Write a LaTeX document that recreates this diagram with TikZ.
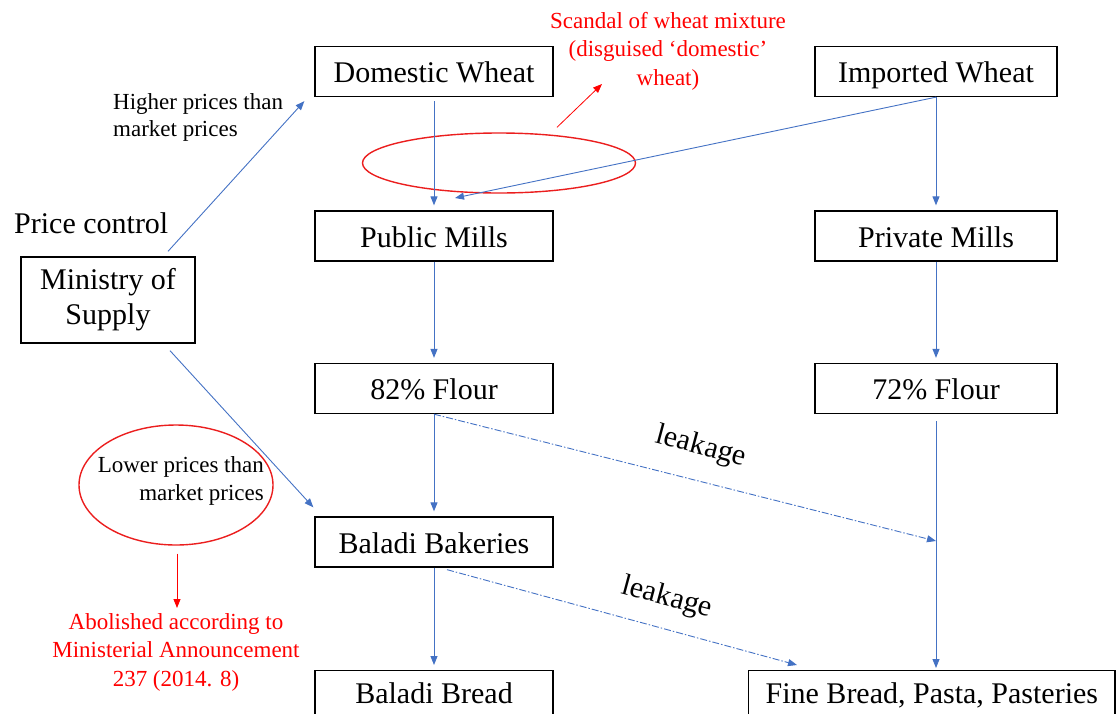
\documentclass[tikz,border=0pt]{standalone}
\usepackage{fontspec}
\setmainfont{Liberation Serif}
\usetikzlibrary{arrows.meta,shapes.geometric,calc}
\definecolor{ablue}{RGB}{68,114,196}
\definecolor{ared}{RGB}{235,30,30}
\begin{document}
\begin{tikzpicture}[x=1pt,y=-1pt,
  box/.style={draw=black, line width=1.3pt, minimum width=238pt, minimum height=50pt,
    inner sep=0pt, font=\fontsize{30}{35}\selectfont, text height=22pt, text depth=0pt},
  mbox/.style={draw=black, line width=1.3pt, minimum width=174pt, minimum height=86pt,
    inner sep=0pt, font=\fontsize{30}{35}\selectfont, align=center},
  cutbox/.style={draw=black, line width=1.3pt, inner xsep=17pt, inner ysep=11pt,
    font=\fontsize{30}{35}\selectfont, text height=22pt, text depth=50pt, anchor=north},
  flow/.style={draw=ablue, line width=0.9pt, -{Triangle[length=9pt,width=7pt]}},
  leak/.style={flow, dash pattern=on 7pt off 2pt on 1.5pt off 2pt},
  redarrow/.style={draw=red, line width=0.8pt, -{Triangle[length=9pt,width=7pt]}},
  note/.style={font=\fontsize{23}{27.5}\selectfont, inner sep=0pt},
  rednote/.style={note, text=red, align=center, font=\fontsize{23}{28.5}\selectfont},
  redell/.style={ellipse, draw=ared, line width=1.4pt, inner sep=0pt},
  leaklabel/.style={font=\fontsize{30}{35}\selectfont, inner sep=0pt},
]
\useasboundingbox (0,0) rectangle (1117,713);
\clip (0,0) rectangle (1117,713);

% boxes
\node[box] (dw) at (434,71.5) {Domestic Wheat};
\node[box, minimum width=242pt] (iw) at (936,71.5) {Imported Wheat};
\node[box] (pm) at (434,236) {Public Mills};
\node[box, minimum width=242pt] (pv) at (936,236) {Private Mills};
\node[box] (f82) at (434,388.5) {82\% Flour};
\node[box, minimum width=242pt] (f72) at (936,388.5) {72\% Flour};
\node[box] (bk) at (434,542) {Baladi Bakeries};
\node[cutbox, minimum width=238pt] (bb) at (434,670) {Baladi Bread};
\node[cutbox, anchor=north west] (fb) at (748,670) {Fine Bread, Pasta, Pasteries};
\node[mbox] (ms) at (108,300) {Ministry of\\Supply};

% texts
\node[anchor=base west, inner sep=0pt, font=\fontsize{30}{35}\selectfont] (pc) at (14,233) {Price control};
\node[note, align=left, anchor=north west] (hp) at (113,93) {Higher prices than\\market prices};
\node[redell, minimum width=273pt, minimum height=60pt] (e1) at (499,163) {};
\node[rednote, anchor=north] (sc) at (668,12) {Scandal of wheat mixture\\(disguised ‘domestic’\\wheat)};
\node[redell, minimum width=194pt, minimum height=120pt] (e2) at (176,485) {};
\node[note, align=right, anchor=east] (lp) at (264,481) {Lower prices than\\market prices};
\node[rednote, anchor=north] (ab) at (176,613) {Abolished according to\\Ministerial Announcement\\237 (2014. 8)};

% connectors
\coordinate (ipm) at (455,198);
\coordinate (mid72) at (936,541);
\coordinate (fbin) at (797,665);
\coordinate (sctip) at (602,84);
\draw[flow, shorten <=4pt, shorten >=5pt] (dw.south) -- (pm.north);
\draw[flow, shorten >=5pt] (iw.south) -- (pv.north);
\draw[flow] (iw.south) -- (ipm);
\draw[flow, shorten >=5pt] (pm.south) -- (f82.north);
\draw[flow, shorten >=5pt] (pv.south) -- (f72.north);
\draw[flow, shorten >=5pt] (f82.south) -- (bk.north);
\draw[flow, shorten >=5pt] (bk.south) -- (bb.north);
\draw[flow, shorten <=7pt, shorten >=2pt] (f72.south) -- (fb.north -| f72.south);
\draw[leak] (f82.south) -- (mid72);
\draw[leak] ($(bk.south)+(13,2)$) -- (fbin);
\draw[flow] ($(ms.north)+(60,-5)$) -- ($(dw.south west)+(-10,4)$);
\draw[flow] ($(ms.south)+(62,7)$) -- ($(bk.north west)+(-1,-9)$);
\draw[redarrow] ($(e1.north)+(58,-5)$) -- (sctip);
\draw[redarrow] ($(e2.south)+(1,8)$) -- ($(ab.north)+(1,-5)$);

% leakage labels
\node[leaklabel, rotate=-15] (lk1) at (701,447) {leakage};
\node[leaklabel, rotate=-15] (lk2) at (667,598) {leakage};
\end{tikzpicture}
\end{document}
